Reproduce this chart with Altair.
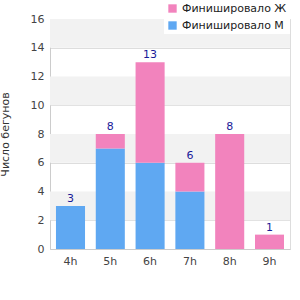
import altair as alt
import pandas as pd

hours = ["4h", "5h", "6h", "7h", "8h", "9h"]
men = [3, 7, 6, 4, 0, 0]
women = [0, 1, 7, 2, 8, 1]
series = ["Финишировало Ж", "Финишировало М"]
colors = ["#f283bd", "#5fa8f2"]
band_lo = [2, 6, 10, 14]
band_hi = [4, 8, 12, 16]

rows = []
for h, m, w in zip(hours, men, women):
    rows.append({"hour": h, "series": series[1], "value": m, "ord": 0})
    rows.append({"hour": h, "series": series[0], "value": w, "ord": 1})
df = pd.DataFrame(rows)
tot = pd.DataFrame({"hour": hours, "total": [m + w for m, w in zip(men, women)]})
bands = pd.DataFrame({"lo": band_lo, "hi": band_hi})

yscale = alt.Scale(domain=[0, 16], nice=False)
xscale = alt.Scale(domain=hours, paddingInner=0.27, paddingOuter=0.15)

yaxis = alt.Axis(title="Число бегунов", values=list(range(0, 17, 2)), labelColor="#444",
                 labelFontSize=11, labelFont="DejaVu Sans", titleFont="DejaVu Sans",
                 titleFontSize=11, titleFontWeight="normal", titleColor="#333",
                 domainColor="#ccc", ticks=False, gridColor="#dddddd", labelPadding=6,
                 titlePadding=20, labelOverlap=False)
xaxis = alt.Axis(title=None, labelAngle=0, labelColor="#444", labelFontSize=11,
                 labelFont="DejaVu Sans", domainColor="#ccc", ticks=False, labelPadding=6)

bg = alt.Chart(bands).mark_rect(color="#f2f2f2").encode(
    x=alt.value(0), x2=alt.value(240),
    y=alt.Y("lo:Q", scale=yscale, axis=yaxis), y2="hi:Q")

bars = alt.Chart(df).mark_bar().encode(
    x=alt.X("hour:N", scale=xscale, sort=hours, axis=xaxis),
    y=alt.Y("value:Q", stack="zero", scale=yscale, axis=yaxis),
    color=alt.Color("series:N", scale=alt.Scale(domain=series, range=colors),
                    legend=alt.Legend(title=None, orient="none", legendX=114, legendY=-19,
                                      symbolType="square", symbolSize=70, labelFontSize=11,
                                      labelFont="DejaVu Sans", labelColor="#222",
                                      fillColor="white", padding=3, rowPadding=5,
                                      symbolStrokeWidth=0)),
    order=alt.Order("ord:Q"),
)

labels = alt.Chart(tot).mark_text(dy=-7, color="#1a1a99", fontSize=11, font="DejaVu Sans").encode(
    x=alt.X("hour:N", scale=xscale, sort=hours, axis=xaxis),
    y=alt.Y("total:Q", scale=yscale, axis=yaxis),
    text="total:Q")

chart = alt.layer(bg, bars, labels).properties(
    width=240, height=230,
    autosize=alt.AutoSizeParams(type="none"),
    padding={"left": 50, "top": 19, "right": 10, "bottom": 51},
).configure_view(stroke=None).configure(background="white")

chart.save("out.html", embed_options={"renderer": "svg", "actions": False})
